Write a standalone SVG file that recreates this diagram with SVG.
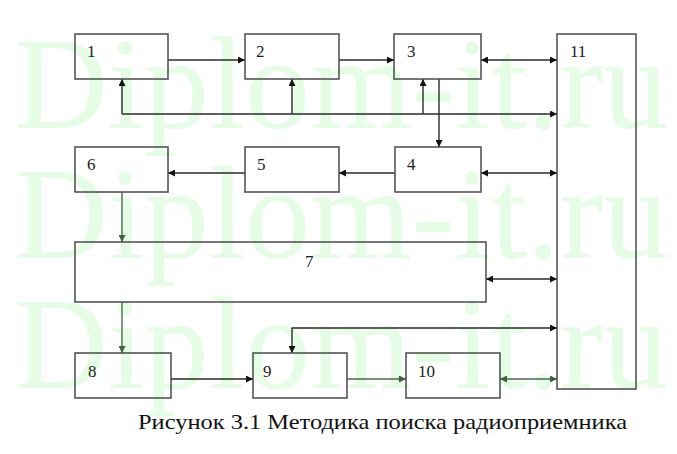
<svg xmlns="http://www.w3.org/2000/svg" width="677" height="454" viewBox="0 0 677 454">
<style>
.wm{font-family:"Liberation Serif","Times New Roman",serif;font-size:132px;fill:#e4fde4}
.box{fill:none;stroke:#4a4a4a;stroke-width:1.5}
.lbl{font-family:"Liberation Serif","Times New Roman",serif;font-size:17px;fill:#222}
.cap{font-family:"Liberation Serif","Times New Roman",serif;font-size:22px;fill:#111}
.ln{fill:none;stroke:#2a2a2a;stroke-width:1.4}
.g{stroke:#4b6b4b}
.a{marker-end:url(#ah)}
.aa{marker-start:url(#ah);marker-end:url(#ah)}
.ag{marker-end:url(#ahg)}
.aag{marker-start:url(#ahg);marker-end:url(#ahg)}
</style>
<defs>
<marker id="ah" viewBox="0 0 10 10" refX="10" refY="5" markerWidth="9" markerHeight="7" markerUnits="userSpaceOnUse" orient="auto-start-reverse"><path d="M0,0 L10,5 L0,10 z" fill="#111"/></marker>
<marker id="ahg" viewBox="0 0 10 10" refX="10" refY="5" markerWidth="9" markerHeight="7" markerUnits="userSpaceOnUse" orient="auto-start-reverse"><path d="M0,0 L10,5 L0,10 z" fill="#3f5f3f"/></marker>
</defs>
<rect width="677" height="454" fill="#fff"/>
<g id="watermark">
<text class="wm" x="14" y="128" textLength="654" lengthAdjust="spacingAndGlyphs">Diplom-it.ru</text>
<text class="wm" x="14" y="258" textLength="654" lengthAdjust="spacingAndGlyphs">Diplom-it.ru</text>
<text class="wm" x="14" y="388" textLength="654" lengthAdjust="spacingAndGlyphs">Diplom-it.ru</text>
</g>
<g id="connectors">
<line class="ln a" x1="168" y1="60" x2="245" y2="60"/>
<line class="ln a" x1="339" y1="60" x2="394" y2="60"/>
<line class="ln aa" x1="481" y1="60" x2="557" y2="60"/>
<line class="ln a" x1="122" y1="114" x2="557" y2="114"/>
<line class="ln a" x1="122" y1="114" x2="122" y2="79"/>
<line class="ln a" x1="292" y1="114" x2="292" y2="79"/>
<line class="ln a" x1="423" y1="114" x2="423" y2="79"/>
<line class="ln a" x1="439" y1="79" x2="439" y2="147"/>
<line class="ln aa" x1="481" y1="173" x2="557" y2="173"/>
<line class="ln a" x1="395" y1="173" x2="339" y2="173"/>
<line class="ln a" x1="245" y1="173" x2="168" y2="173"/>
<line class="ln g ag" x1="122" y1="192" x2="122" y2="242"/>
<line class="ln aa" x1="486" y1="279" x2="557" y2="279"/>
<line class="ln g ag" x1="122" y1="302" x2="122" y2="353"/>
<path class="ln aa" d="M292,353 L292,328 L557,328"/>
<line class="ln a" x1="171" y1="379" x2="253" y2="379"/>
<line class="ln g ag" x1="347" y1="379" x2="406" y2="379"/>
<line class="ln g aag" x1="500" y1="379" x2="557" y2="379"/>
</g>
<g id="n1"><rect class="box" x="75" y="34" width="93" height="45"/><text class="lbl" x="87" y="57">1</text></g>
<g id="n2"><rect class="box" x="245" y="34" width="94" height="45"/><text class="lbl" x="256" y="57">2</text></g>
<g id="n3"><rect class="box" x="394" y="34" width="87" height="45"/><text class="lbl" x="407" y="57">3</text></g>
<g id="n11"><rect class="box" x="557" y="34" width="79" height="355"/><text class="lbl" x="570" y="57">11</text></g>
<g id="n4"><rect class="box" x="395" y="147" width="86" height="45"/><text class="lbl" x="407" y="170">4</text></g>
<g id="n5"><rect class="box" x="245" y="147" width="94" height="45"/><text class="lbl" x="257" y="170">5</text></g>
<g id="n6"><rect class="box" x="75" y="147" width="93" height="45"/><text class="lbl" x="87" y="170">6</text></g>
<g id="n7"><rect class="box" x="75" y="242" width="411" height="60"/><text class="lbl" x="305" y="267">7</text></g>
<g id="n8"><rect class="box" x="75" y="353" width="96" height="45"/><text class="lbl" x="88" y="377">8</text></g>
<g id="n9"><rect class="box" x="253" y="353" width="94" height="45"/><text class="lbl" x="263" y="377">9</text></g>
<g id="n10"><rect class="box" x="406" y="353" width="94" height="45"/><text class="lbl" x="418" y="377">10</text></g>
<text class="cap" x="138" y="429" textLength="489" lengthAdjust="spacingAndGlyphs">Рисунок 3.1 Методика поиска радиоприемника</text>
</svg>
